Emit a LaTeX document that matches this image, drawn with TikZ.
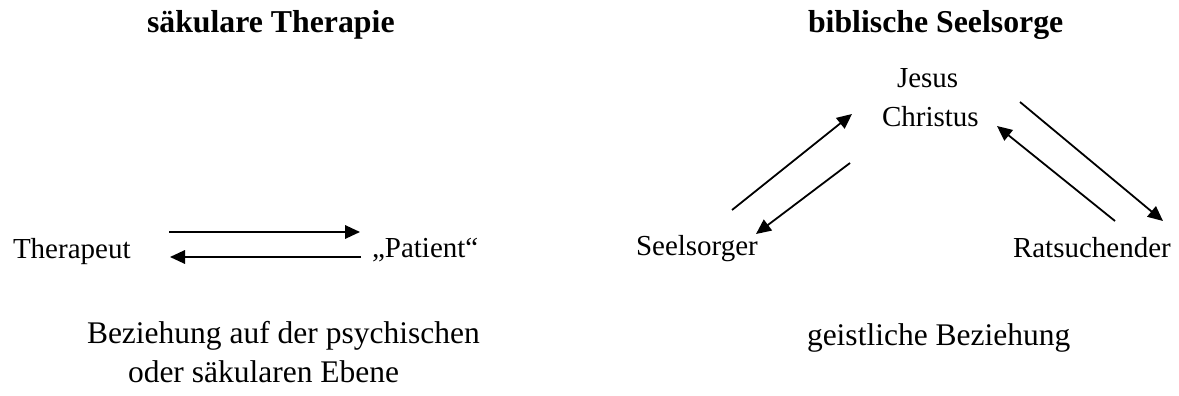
\documentclass[tikz,border=0pt]{standalone}
\usepackage{fontspec}
\setmainfont{Liberation Serif}
\usetikzlibrary{arrows.meta}
\begin{document}
\begin{tikzpicture}[x=1pt,y=-1pt,
  lbl/.style={inner sep=0pt,outer sep=0pt,anchor=base west,font=\fontsize{29}{38}\selectfont},
  captxt/.style={lbl,font=\fontsize{31.5}{39}\selectfont},
  ttl/.style={lbl,font=\fontsize{31.8}{38}\selectfont\bfseries},
  conn/.style={line width=1.8pt,-{Triangle[length=15pt,width=13.5pt]}}]
\useasboundingbox (0,0) rectangle (1179,396);
% titles
\node[ttl] (t1) at (147,33) {säkulare Therapie};
\node[ttl] (t2) at (808,33) {biblische Seelsorge};
% left part
\node[lbl] (ther) at (13,258) {Therapeut};
\node[lbl] (pat) at (372,257) {„Patient“};
\coordinate (h1a) at (169,232); \coordinate (h1b) at (360,232);
\coordinate (h2a) at (361,257); \coordinate (h2b) at (170,257);
\draw[conn] (h1a) -- (h1b);
\draw[conn] (h2a) -- (h2b);
\node[captxt] (b1) at (87,343) {Beziehung auf der psychischen};
\node[captxt] (b2) at (128,382) {oder säkularen Ebene};
% right part
\node[lbl] (jes) at (897,88) {Jesus};
\node[lbl] (chr) at (882,126) {Christus};
\node[lbl] (seel) at (636,255) {Seelsorger};
\node[lbl] (rat) at (1013,257) {Ratsuchender};
\coordinate (a1s) at (732,210); \coordinate (a1e) at (852,114);
\coordinate (a2s) at (850,163); \coordinate (a2e) at (756,234);
\coordinate (a3s) at (1020,102); \coordinate (a3e) at (1163,221);
\coordinate (a4s) at (1115,221); \coordinate (a4e) at (997,126);
\draw[conn] (a1s) -- (a1e);
\draw[conn] (a2s) -- (a2e);
\draw[conn] (a3s) -- (a3e);
\draw[conn] (a4s) -- (a4e);
\node[captxt] (geist) at (807,345) {geistliche Beziehung};
\end{tikzpicture}
\end{document}
